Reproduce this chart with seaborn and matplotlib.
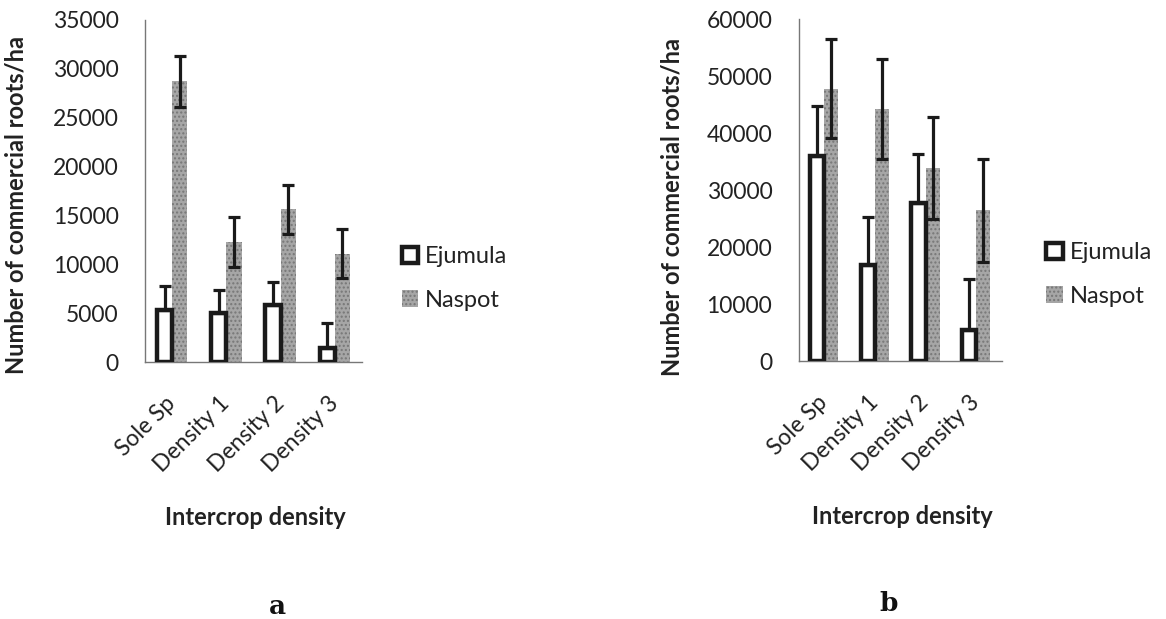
import pandas as pd
import matplotlib
matplotlib.use("Agg")
import matplotlib.pyplot as plt
import seaborn as sns
from matplotlib.patches import Patch

# data
categories = ["Sole Sp", "Density 1", "Density 2", "Density 3"]
varieties = ["Ejumula", "Naspot"]

a_ejumula = [5300, 5000, 5850, 1450]
a_ejumula_err = [2450, 2400, 2350, 2550]
a_naspot = [28700, 12300, 15650, 11100]
a_naspot_err = [2600, 2550, 2500, 2550]

b_ejumula = [36100, 16900, 27700, 5500]
b_ejumula_err = [8600, 8500, 8600, 9000]
b_naspot = [47800, 44300, 33900, 26500]
b_naspot_err = [8700, 8800, 8900, 9000]

a_ticks = [0, 5000, 10000, 15000, 20000, 25000, 30000, 35000]
b_ticks = [0, 10000, 20000, 30000, 40000, 50000, 60000]

GRAY = "#a6a6a6"
INK = "#222222"


def make_frame(ej, ns):
    rows = []
    for c, v in zip(categories, ej):
        rows.append({"density": c, "variety": "Ejumula", "roots": v})
    for c, v in zip(categories, ns):
        rows.append({"density": c, "variety": "Naspot", "roots": v})
    return pd.DataFrame(rows)


def draw_panel(ax, ej, ej_err, ns, ns_err, ticks, ylab_pos, legend_anchor):
    df = make_frame(ej, ns)
    sns.barplot(data=df, x="density", y="roots", hue="variety",
                order=categories, hue_order=varieties,
                palette={"Ejumula": "white", "Naspot": GRAY},
                width=0.56, gap=0.0, errorbar=None, legend=False, ax=ax)

    n = len(categories)
    patches = ax.patches[:2 * n]
    for i, p in enumerate(patches):
        if i < n:
            p.set_edgecolor("#1a1a1a")
            p.set_linewidth(3.2)
            p.set_facecolor("white")
            p.set_zorder(3)
        else:
            p.set_edgecolor("#777777")
            p.set_hatch("....")
            p.set_linewidth(0)
            p.set_zorder(2)

    # Ejumula shows only the upper bar, Naspot both
    for i in range(n):
        pe = patches[i]
        xe = pe.get_x() + pe.get_width() / 2
        ax.errorbar(xe, ej[i], yerr=[[0], [ej_err[i]]], fmt="none",
                    ecolor="#1a1a1a", elinewidth=2.3, capsize=4.5, capthick=2.3,
                    zorder=4)
        pn = patches[n + i]
        xn = pn.get_x() + pn.get_width() / 2
        ax.errorbar(xn, ns[i], yerr=ns_err[i], fmt="none",
                    ecolor="#1a1a1a", elinewidth=2.3, capsize=4.5, capthick=2.3,
                    zorder=4)

    ax.set_ylim(0, ticks[-1])
    ax.set_xlim(-0.5, n - 0.5)
    ax.set_yticks(ticks)
    ax.set_yticklabels([str(t) for t in ticks], fontsize=16.5, color=INK)
    ax.set_xticks(range(n))
    ax.set_xticklabels(categories, rotation=45, ha="right", va="center",
                       rotation_mode="anchor", fontsize=16.5, color=INK)
    ax.set_xticks([i - 0.5 for i in range(n + 1)], minor=True)
    ax.tick_params(axis="x", which="major", length=0, pad=27)
    ax.tick_params(axis="x", which="minor", length=6, color="#777777",
                   direction="out", width=1)
    ax.tick_params(axis="y", length=6, color="#777777", direction="out",
                   width=1, pad=13)

    sns.despine(ax=ax)
    for side in ["left", "bottom"]:
        ax.spines[side].set_color("#777777")
        ax.spines[side].set_linewidth(1)

    ax.set_ylabel("Number of commercial roots/ha", fontsize=17,
                  fontweight="bold", color=INK)
    ax.yaxis.set_label_coords(*ylab_pos)
    ax.set_xlabel("Intercrop density", fontsize=17, fontweight="bold",
                  color=INK)
    ax.xaxis.set_label_coords(0.51, -0.42)

    handles = [Patch(facecolor="white", edgecolor="#1a1a1a", linewidth=3.2),
               Patch(facecolor=GRAY, edgecolor="#777777", hatch="....",
                     linewidth=0)]
    ax.legend(handles, varieties, loc="center left",
              bbox_to_anchor=legend_anchor, frameon=False, fontsize=17,
              handlelength=0.7, handleheight=0.7, handletextpad=0.3,
              labelspacing=0.95, borderpad=0, labelcolor=INK)


def main():
    sns.set_theme(style="white")
    plt.rcParams["font.family"] = ["Lato", "DejaVu Sans"]
    plt.rcParams["hatch.linewidth"] = 1.0

    fig = plt.figure(figsize=(11.66, 6.19), dpi=100)
    ax_a = fig.add_axes([0.1244, 0.415, 0.186, 0.553])
    ax_b = fig.add_axes([0.685, 0.416, 0.174, 0.553])

    draw_panel(ax_a, a_ejumula, a_ejumula_err, a_naspot, a_naspot_err,
               a_ticks, (-0.54, 0.46), (1.129, 0.244))
    draw_panel(ax_b, b_ejumula, b_ejumula_err, b_naspot, b_naspot_err,
               b_ticks, (-0.57, 0.45), (1.163, 0.254))

    fig.text(0.2376, 0.0194, "a", ha="center", va="center", fontsize=19,
             fontweight="bold", family="DejaVu Serif", color="#111111")
    fig.text(0.7624, 0.0258, "b", ha="center", va="center", fontsize=19,
             fontweight="bold", family="DejaVu Serif", color="#111111")

    fig.savefig("out.png", dpi=100)


if __name__ == "__main__":
    main()
